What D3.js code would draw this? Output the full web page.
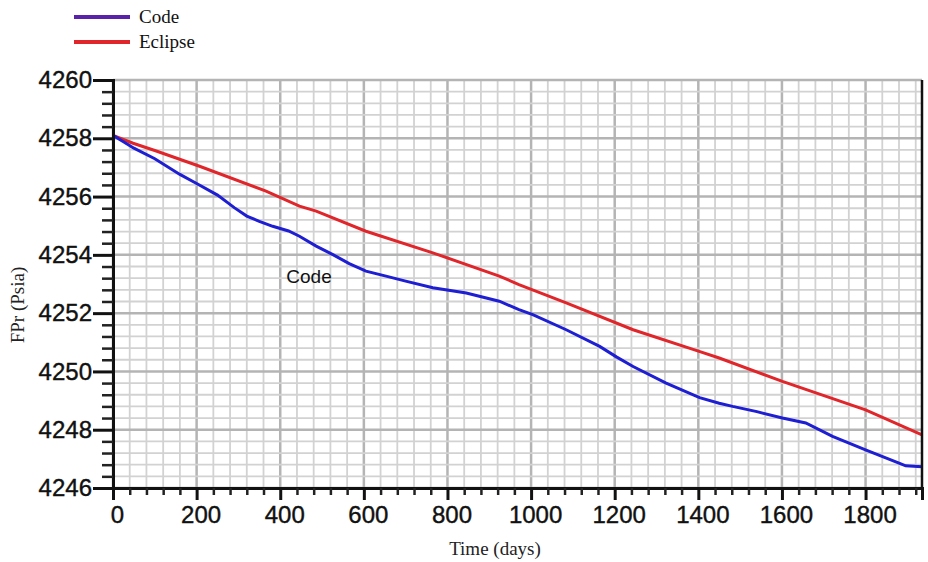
<!DOCTYPE html>
<html>
<head>
<meta charset="utf-8">
<script src="https://cdn.jsdelivr.net/npm/d3@7"></script>
<style>
  html, body { margin: 0; padding: 0; background: #fff; }
  svg { display: block; }
</style>
</head>
<body>
<svg id="chart" width="928" height="562"></svg>
<script>
// Reservoir pressure vs time: in-house code against Eclipse simulator
const codeDays = [0, 25, 50, 100, 160, 200, 250, 290, 320, 350, 382, 420, 446, 486, 526, 565, 605, 653, 700, 765, 845, 924, 971, 1004, 1084, 1164, 1204, 1244, 1323, 1403, 1450, 1482, 1540, 1601, 1657, 1721, 1800, 1880, 1896, 1935];
const codePressure = [4258.1, 4257.88, 4257.66, 4257.3, 4256.76, 4256.45, 4256.05, 4255.62, 4255.33, 4255.15, 4254.98, 4254.82, 4254.64, 4254.3, 4254.01, 4253.7, 4253.44, 4253.27, 4253.1, 4252.87, 4252.69, 4252.41, 4252.12, 4251.95, 4251.43, 4250.86, 4250.5, 4250.17, 4249.6, 4249.1, 4248.91, 4248.8, 4248.62, 4248.4, 4248.23, 4247.77, 4247.31, 4246.85, 4246.76, 4246.73];

const eclipseDays = [0, 48, 100, 207, 366, 446, 486, 605, 765, 924, 971, 1084, 1244, 1402, 1450, 1601, 1800, 1935];
const eclipsePressure = [4258.1, 4257.83, 4257.58, 4257.04, 4256.19, 4255.67, 4255.5, 4254.81, 4254.07, 4253.27, 4252.98, 4252.35, 4251.43, 4250.69, 4250.46, 4249.66, 4248.68, 4247.82];

const xTicks = [0, 200, 400, 600, 800, 1000, 1200, 1400, 1600, 1800];
const yTicks = [4246, 4248, 4250, 4252, 4254, 4256, 4258, 4260];

const seriesNames = ["Code", "Eclipse"];
const legendColors = ["#5a22a8", "#e0262a"];
const lineColors = ["#1e1ed2", "#e0262a"];

const svg = d3.select("#chart");
const margin = { left: 113, right: 6, top: 80, bottom: 74 };
const W = 928, H = 562;

const x = d3.scaleLinear().domain([0, 1935]).range([margin.left, W - margin.right]);
const y = d3.scaleLinear().domain([4246, 4260]).range([H - margin.bottom, margin.top]);

// grid: minor every 40 days / 0.4 psia, major every 200 days / 2 psia
const gridX = d3.range(0, 1935, 40);
const gridY = d3.range(0, 36).map(i => 4246 + i * 0.4);
const g = svg.append("g");
g.selectAll("line.vx").data(gridX).join("line")
  .attr("x1", d => x(d)).attr("x2", d => x(d))
  .attr("y1", y(4260)).attr("y2", y(4246))
  .attr("stroke", d => d % 200 === 0 ? "#b4b4b4" : "#d2d2d2")
  .attr("stroke-width", d => d % 200 === 0 ? 2.5 : 1.8);
g.selectAll("line.hy").data(gridY).join("line")
  .attr("x1", x(0)).attr("x2", x(1935))
  .attr("y1", d => y(d)).attr("y2", d => y(d))
  .attr("stroke", (d, i) => i % 5 === 0 ? "#b4b4b4" : "#d2d2d2")
  .attr("stroke-width", (d, i) => i % 5 === 0 ? 2.5 : 1.8);

// data lines
const line = d3.line().x(d => x(d[0])).y(d => y(d[1]));
svg.append("path")
  .datum(eclipseDays.map((d, i) => [d, eclipsePressure[i]]))
  .attr("d", line).attr("fill", "none")
  .attr("stroke", lineColors[1]).attr("stroke-width", 3);
svg.append("path")
  .datum(codeDays.map((d, i) => [d, codePressure[i]]))
  .attr("d", line).attr("fill", "none")
  .attr("stroke", lineColors[0]).attr("stroke-width", 3);

// axes
const tickFont = "'Liberation Sans Narrow', 'Liberation Sans', Arial, sans-serif";
const yAxis = svg.append("g").attr("transform", `translate(${x(0)},0)`)
  .call(d3.axisLeft(y).tickValues(yTicks).tickSize(20).tickFormat(d3.format("d")));
yAxis.select(".domain").attr("stroke", "#111").attr("stroke-width", 3);
yAxis.selectAll(".tick line").attr("stroke", "#111").attr("stroke-width", 3);
yAxis.selectAll(".tick text").attr("font-family", tickFont).attr("font-size", 24)
  .attr("fill", "#111").attr("stroke", "#111").attr("stroke-width", 0.4).attr("dx", 2);
const yMinor = svg.append("g").attr("transform", `translate(${x(0)},0)`)
  .call(d3.axisLeft(y).tickValues(gridY.filter((d, i) => i % 5 !== 0)).tickSize(11).tickFormat(""));
yMinor.select(".domain").remove();
yMinor.selectAll(".tick line").attr("stroke", "#222").attr("stroke-width", 2.5);

const xAxis = svg.append("g").attr("transform", `translate(0,${y(4246)})`)
  .call(d3.axisBottom(x).tickValues(xTicks).tickSize(12).tickPadding(6).tickFormat(d3.format("d")));
xAxis.select(".domain").attr("stroke", "#111").attr("stroke-width", 3);
xAxis.selectAll(".tick line").attr("stroke", "#111").attr("stroke-width", 3);
xAxis.selectAll(".tick text").attr("font-family", tickFont).attr("font-size", 24)
  .attr("fill", "#111").attr("stroke", "#111").attr("stroke-width", 0.4).attr("dx", 4);
const xMinor = svg.append("g").attr("transform", `translate(0,${y(4246)})`)
  .call(d3.axisBottom(x).tickValues(gridX.filter(d => d % 200 !== 0)).tickSize(7).tickFormat(""));
xMinor.select(".domain").remove();
xMinor.selectAll(".tick line").attr("stroke", "#222").attr("stroke-width", 2.5);

// right frame edge
svg.append("line")
  .attr("x1", x(1935)).attr("x2", x(1935))
  .attr("y1", y(4260)).attr("y2", y(4246))
  .attr("stroke", "#111").attr("stroke-width", 2.5);

// axis titles
const serif = "'Liberation Serif', 'Times New Roman', serif";
svg.append("text").attr("x", 495).attr("y", 555).attr("text-anchor", "middle")
  .attr("font-family", serif).attr("font-size", 19).attr("fill", "#222").text("Time (days)");
svg.append("text").attr("transform", "translate(24,305) rotate(-90)").attr("text-anchor", "middle")
  .attr("font-family", serif).attr("font-size", 19).attr("fill", "#222").text("FPr (Psia)");

// inline label for the code curve
svg.append("text").attr("x", 309).attr("y", 283).attr("text-anchor", "middle")
  .attr("font-family", "'Liberation Sans', Arial, sans-serif").attr("font-size", 19)
  .attr("fill", "#111").text("Code");

// legend
const leg = svg.append("g");
seriesNames.forEach((name, i) => {
  const ly = 17 + i * 25;
  leg.append("line").attr("x1", 74).attr("x2", 130).attr("y1", ly).attr("y2", ly)
    .attr("stroke", legendColors[i]).attr("stroke-width", 4);
  leg.append("text").attr("x", 139).attr("y", ly + 6)
    .attr("font-family", serif).attr("font-size", 19).attr("fill", "#111").text(name);
});
</script>
</body>
</html>
